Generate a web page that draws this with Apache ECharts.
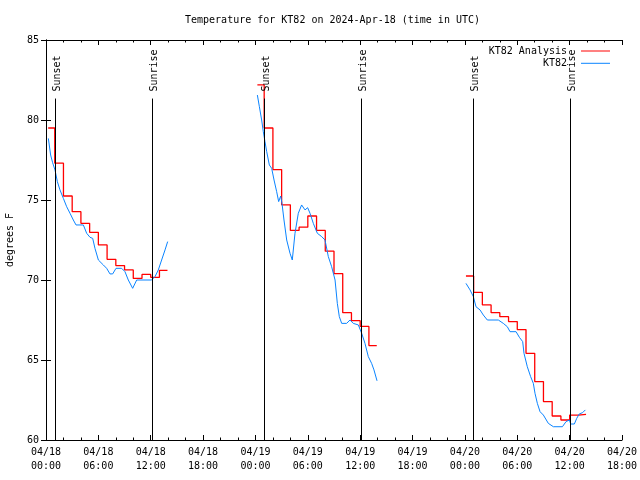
<!DOCTYPE html>
<html><head><meta charset="utf-8">
<script src="https://cdn.jsdelivr.net/npm/echarts@6/dist/echarts.min.js"></script>
<style>html,body{margin:0;padding:0;background:#fff}#c{width:640px;height:480px}</style>
</head><body><div id="c"></div>
<script>
const FONT = 'DejaVu Sans Mono';
// Times are hours since 2024-04-18 00:00 UTC
const xTickLabels = ['04/18\n00:00','04/18\n06:00','04/18\n12:00','04/18\n18:00',
  '04/19\n00:00','04/19\n06:00','04/19\n12:00','04/19\n18:00',
  '04/20\n00:00','04/20\n06:00','04/20\n12:00','04/20\n18:00'];

// KT82 Analysis (hourly, stepped)
const anaHours1 = [0.25,1,2,3,4,5,6,7,8,9,10,11,12,13,13.92];
const anaTemps1 = [79.5,77.3,75.25,74.27,73.54,72.98,72.19,71.29,70.9,70.63,70.1,70.35,70.17,70.6,70.6];
const anaHours2 = [24.22,25,26,27,28,29,30,31,32,33,34,35,36,37,37.9];
const anaTemps2 = [82.2,79.5,76.9,74.7,73.1,73.3,74.0,73.1,71.8,70.4,67.96,67.46,67.1,65.9,65.9];
const anaHours3 = [48.12,49,50,51,52,53,54,55,56,57,58,59,60,61,61.88];
const anaTemps3 = [70.25,69.23,68.44,67.96,67.71,67.4,66.9,65.42,63.65,62.4,61.5,61.25,61.56,61.6,61.6];

// KT82 observations
const obsHours1 = [0.27,0.53,0.76,1.03,1.30,1.60,1.99,2.37,2.75,3.13,3.44,4.28,4.66,5.04,5.35,5.61,6.0,6.57,6.95,7.33,7.64,8.02,8.67,9.05,9.43,9.93,10.39,12.11,12.49,12.87,13.25,13.64,13.94];
const obsTemps1 = [78.85,77.81,77.33,76.88,76.15,75.63,75.1,74.58,74.17,73.75,73.44,73.44,72.92,72.67,72.6,71.98,71.25,70.94,70.73,70.38,70.38,70.73,70.73,70.52,70.0,69.48,70.0,70.0,70.21,70.63,71.25,71.88,72.4];
const obsHours2 = [24.22,24.45,24.71,24.9,25.09,25.29,25.59,25.86,26.13,26.43,26.66,26.89,27.04,27.27,27.58,27.96,28.22,28.53,28.91,29.29,29.68,29.98,30.25,30.63,31.09,31.59,31.97,32.35,32.73,33.12,33.38,33.61,33.88,34.45,34.83,35.21,35.79,36.17,36.55,36.93,37.31,37.58,37.93];
const obsTemps2 = [81.56,80.83,80.0,79.27,78.65,78.02,77.19,76.98,76.25,75.52,74.9,75.25,74.79,73.75,72.5,71.67,71.25,72.92,74.17,74.69,74.38,74.52,74.17,73.54,72.92,72.71,72.5,71.46,70.83,70.0,68.54,67.71,67.29,67.29,67.5,67.29,67.19,66.67,66.04,65.21,64.79,64.38,63.7];
const obsHours3 = [48.12,48.59,48.97,49.27,49.73,50.11,50.57,51.83,52.4,52.86,53.17,53.86,54.24,54.62,54.77,55.15,55.53,55.84,56.03,56.3,56.61,56.99,57.56,58.14,59.17,59.59,59.97,60.12,60.54,60.81,61.11,61.49,61.8];
const obsTemps3 = [69.79,69.38,68.96,68.33,68.13,67.81,67.5,67.5,67.29,67.08,66.77,66.77,66.42,66.15,65.42,64.58,63.96,63.54,62.92,62.29,61.77,61.56,61.04,60.83,60.83,61.15,61.25,61.0,61.0,61.35,61.63,61.71,61.88];

// Sunset / sunrise
const eventNames = ['Sunset','Sunrise','Sunset','Sunrise','Sunset','Sunrise'];
const eventHours = [1.03,12.18,25.01,36.13,48.96,60.04];
const eventLabelTemp = 81.75;
const eventLineTop = 81.34;

function seg(h, v) { return h.map((t, i) => [t, v[i]]); }
function gap(h) { return [[h[h.length - 1], null]]; }
const anaData = [].concat(seg(anaHours1, anaTemps1), gap(anaHours1), seg(anaHours2, anaTemps2), gap(anaHours2), seg(anaHours3, anaTemps3));
const obsData = [].concat(seg(obsHours1, obsTemps1), gap(obsHours1), seg(obsHours2, obsTemps2), gap(obsHours2), seg(obsHours3, obsTemps3));

const chart = echarts.init(document.getElementById('c'), null, {renderer: 'canvas'});
const txt = {fontFamily: FONT, fontSize: 10, color: '#000'};
const blk = {color: '#000', width: 1};
chart.setOption({
  animation: false,
  backgroundColor: '#fff',
  title: {text: 'Temperature for KT82 on 2024-Apr-18 (time in UTC)', left: 185, top: 15, padding: 0,
    textStyle: Object.assign({fontWeight: 'normal'}, txt)},
  legend: {data: ['KT82 Analysis', 'KT82'], orient: 'vertical', right: 30, top: 45, align: 'right',
    icon: 'rect', itemWidth: 29, itemHeight: 1, itemGap: 0.3, selectedMode: false, padding: 0,
    textStyle: Object.assign({lineHeight: 12, padding: [0, 9, 0, 0]}, txt)},
  grid: {left: 46, right: 18, top: 40, bottom: 40, outerBoundsMode: 'none', containLabel: false},
  xAxis: [{
    type: 'value', min: 0, max: 66, interval: 6,
    axisLine: {lineStyle: blk}, splitLine: {show: false},
    axisTick: {inside: true, length: 5, lineStyle: blk},
    minorTick: {show: true, splitNumber: 3, length: 2.5, lineStyle: blk},
    axisLabel: Object.assign({formatter: v => xTickLabels[Math.round(v / 6)], lineHeight: 14, margin: 5}, txt)
  }, {
    type: 'value', position: 'top', min: 0, max: 66, interval: 6,
    axisLine: {lineStyle: blk}, splitLine: {show: false},
    axisTick: {inside: true, length: 5, lineStyle: blk},
    minorTick: {show: true, splitNumber: 3, length: 2.5, lineStyle: blk},
    axisLabel: {show: false}
  }],
  yAxis: [{
    type: 'value', min: 60, max: 85, interval: 5,
    name: 'degrees F', nameLocation: 'middle', nameGap: 31, nameRotate: 90, nameTextStyle: txt,
    axisLine: {show: true, lineStyle: blk}, splitLine: {show: false},
    axisTick: {show: true, inside: true, length: 5, lineStyle: blk},
    axisLabel: Object.assign({margin: 7}, txt)
  }, {
    type: 'value', position: 'right', min: 60, max: 85, interval: 5,
    axisLine: {show: true, lineStyle: blk}, splitLine: {show: false},
    axisTick: {show: true, inside: true, length: 5, lineStyle: blk},
    axisLabel: {show: false}
  }],
  series: [{
    name: 'KT82 Analysis', type: 'line', step: 'end', data: anaData, symbol: 'none',
    connectNulls: false, lineStyle: {color: '#ff0000', width: 1.3}, itemStyle: {color: '#ff0000'}, z: 2
  }, {
    name: 'KT82', type: 'line', data: obsData, symbol: 'none',
    connectNulls: false, lineStyle: {color: '#0a84ff', width: 1}, itemStyle: {color: '#0a84ff'}, z: 2
  }, {
    name: 'events', type: 'scatter', z: 3, symbolSize: 1,
    itemStyle: {color: 'rgba(0,0,0,0)'},
    data: eventHours.map(h => [h, eventLabelTemp]),
    label: Object.assign({show: true, position: [2.5, 0], align: 'left', verticalAlign: 'middle', rotate: 90,
      opacity: 1, formatter: p => eventNames[p.dataIndex]}, txt),
    markLine: {symbol: ['none', 'none'], silent: true, label: {show: false},
      lineStyle: {color: '#000', width: 1, type: 'solid'},
      data: eventHours.map(h => [{coord: [h, 60]}, {coord: [h, eventLineTop]}])}
  }]
});
</script></body></html>
